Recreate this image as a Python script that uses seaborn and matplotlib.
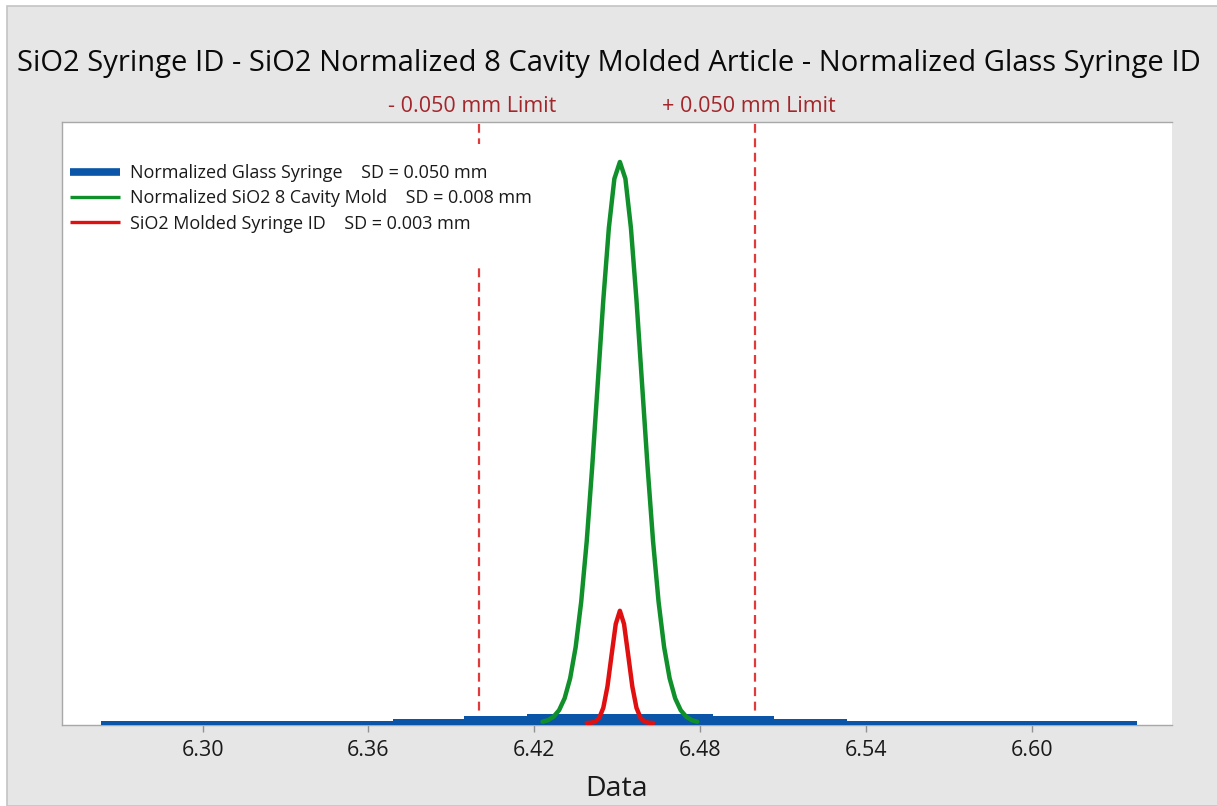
import numpy as np
import pandas as pd
import matplotlib
matplotlib.use("Agg")
import matplotlib.pyplot as plt
import seaborn as sns
from matplotlib.patches import Rectangle

# valores
glass_x = [6.2632, 6.3689, 6.3946, 6.4174, 6.4847, 6.5068, 6.5332, 6.6382]
glass_y = [0.20, 0.36, 0.62, 0.78, 0.62, 0.36, 0.20, 0.20]

mold_x = [6.423, 6.425, 6.427, 6.429, 6.431, 6.433, 6.435, 6.437, 6.439, 6.441,
          6.443, 6.445, 6.447, 6.449, 6.451, 6.453, 6.455, 6.457, 6.459, 6.461,
          6.463, 6.465, 6.467, 6.469, 6.471, 6.473, 6.475, 6.477, 6.479]
mold_y = [0.11, 0.25, 0.56, 1.14, 2.20, 3.98, 6.77, 10.8, 16.2, 22.9,
          30.3, 37.7, 44.1, 48.5, 50.0, 48.5, 44.1, 37.7, 30.3, 22.9,
          16.2, 10.8, 6.77, 3.98, 2.20, 1.14, 0.56, 0.25, 0.11]

syr_x = [6.4390, 6.4405, 6.4420, 6.4435, 6.4450, 6.4465, 6.4480, 6.4495, 6.4510,
         6.4525, 6.4540, 6.4555, 6.4570, 6.4585, 6.4600, 6.4615, 6.4630]
syr_y = [0.00, 0.02, 0.11, 0.44, 1.35, 3.25, 6.07, 8.82, 10.0,
         8.82, 6.07, 3.25, 1.35, 0.44, 0.11, 0.02, 0.00]

limits = [6.40, 6.50]
limit_labels = ["- 0.050 mm Limit", "+ 0.050 mm Limit"]
xticks = [6.30, 6.36, 6.42, 6.48, 6.54, 6.60]

labels = ["Normalized Glass Syringe    SD = 0.050 mm",
          "Normalized SiO2 8 Cavity Mold    SD = 0.008 mm",
          "SiO2 Molded Syringe ID    SD = 0.003 mm"]

blue = "#0a55a8"
green = "#10902a"
red = "#e01010"
lim_color = "#e03a3a"
txt_red = "#a3262b"

sns.set_theme(style="white")
plt.rcParams["font.family"] = ["Open Sans", "DejaVu Sans"]

fig = plt.figure(figsize=(12.17, 8.06), dpi=100, facecolor="white")
fig.patches.append(Rectangle((7 / 1217, 0), 1, 1 - 6 / 806, transform=fig.transFigure,
                             facecolor="#e6e6e6", edgecolor="#c4c4c4", lw=1.2, zorder=-10))
ax = fig.add_axes([61.7 / 1217, 1 - 725 / 806, (1172 - 61.7) / 1217, 603 / 806])
ax.set_zorder(1)
ax.set_facecolor("white")

ybot = -0.18
ax.fill_between(glass_x, ybot, glass_y, step="post", color=blue, lw=0, zorder=4)

df_m = pd.DataFrame({"x": mold_x, "y": mold_y})
df_s = pd.DataFrame({"x": syr_x, "y": syr_y})
sns.lineplot(data=df_m, x="x", y="y", color=green, lw=3.2, ax=ax, zorder=5, sort=False)
sns.lineplot(data=df_s, x="x", y="y", color=red, lw=3.2, ax=ax, zorder=6, sort=False)

for lv, lt in zip(limits, limit_labels):
    ax.axvline(lv, color=lim_color, lw=1.6, ls=(0, (4, 2.5)), zorder=2)
    ax.text(lv - 0.0025, 1.008, lt, transform=ax.get_xaxis_transform(), ha="center",
            va="bottom", fontsize=15.5, color=txt_red)

# caixa branca da legenda que corta a linha tracejada
ax.add_patch(Rectangle((0.003, 0.763), 0.44, 0.2, transform=ax.transAxes,
                       facecolor="white", edgecolor="none", zorder=3))

handles = [plt.Line2D([], [], color=blue, lw=5.5, solid_capstyle="butt"),
           plt.Line2D([], [], color=green, lw=2.4, solid_capstyle="butt"),
           plt.Line2D([], [], color=red, lw=2.4, solid_capstyle="butt")]
leg = ax.legend(handles, labels, loc="upper left", bbox_to_anchor=(0.0075, 0.93),
                frameon=False, fontsize=13, borderaxespad=0, borderpad=0,
                handlelength=2.75, handletextpad=0.55, labelspacing=0.4)
for t in leg.get_texts():
    t.set_color("#1a1a1a")

ax.set_xlim(6.249, 6.6508)
ax.set_ylim(ybot, 53.56)
ax.set_xticks(xticks)
ax.set_xticklabels([f"{v:.2f}" for v in xticks])
ax.set_yticks([])
ax.tick_params(axis="x", bottom=True, length=5, width=1, color="#909090",
               labelsize=15.5, labelcolor="#1a1a1a", pad=6)
for s in ax.spines.values():
    s.set_color("#a8a8a8")
    s.set_linewidth(1.0)
ax.spines["right"].set_visible(False)

ax.set_xlabel("Data", fontsize=20.5, color="#1a1a1a", labelpad=10)
ax.set_ylabel("")
fig.text(0.5, 1 - 64 / 806, "SiO2 Syringe ID - SiO2 Normalized 8 Cavity Molded Article - Normalized Glass Syringe ID",
         ha="center", va="center", fontsize=21, color="#0a0a0a")

fig.savefig("out.png", dpi=100, facecolor=fig.get_facecolor())
